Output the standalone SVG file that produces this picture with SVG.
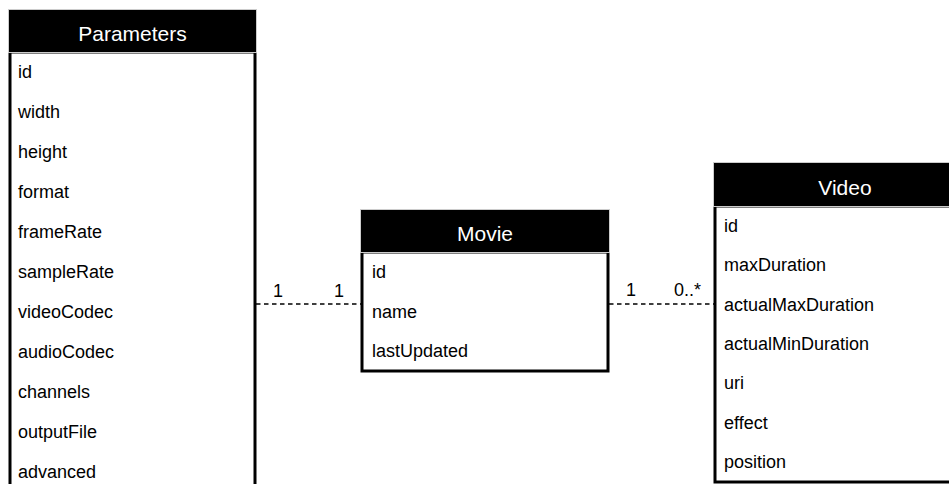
<svg xmlns="http://www.w3.org/2000/svg" width="949" height="484" viewBox="0 0 949 484">
  <style>
    .body { fill: #ffffff; stroke: #000000; stroke-width: 3; }
    .head { fill: #000000; stroke: #cccccc; stroke-width: 1; }
    .title { font-family: "Liberation Sans", Arial, Helvetica, sans-serif; font-size: 21px; fill: #ffffff; text-anchor: middle; }
    .row { font-family: "Liberation Sans", Arial, Helvetica, sans-serif; font-size: 18px; fill: #000000; }
    .mult { font-family: "Liberation Sans", Arial, Helvetica, sans-serif; font-size: 18px; fill: #000000; }
    .link { fill: none; stroke: #000000; stroke-width: 1.5; stroke-dasharray: 4.5 3.5; }
  </style>
  <rect x="0" y="0" width="949" height="484" fill="#ffffff"/>

  <!-- relationships -->
  <g id="connectors">
    <line class="link" x1="256" y1="304" x2="361" y2="304"/>
    <text class="mult" x="273" y="297">1</text>
    <text class="mult" x="334" y="297">1</text>
    <line class="link" x1="609" y1="304" x2="714" y2="304"/>
    <text class="mult" x="626" y="296">1</text>
    <text class="mult" x="674" y="296">0..*</text>
  </g>

  <!-- Parameters entity -->
  <g id="parameters">
    <rect class="body" x="10" y="52" width="245" height="460"/>
    <rect class="head" x="8.5" y="9.5" width="248" height="43"/>
    <text class="title" x="132.5" y="41">Parameters</text>
    <text class="row" x="18" y="78">id</text>
    <text class="row" x="18" y="118">width</text>
    <text class="row" x="18" y="158">height</text>
    <text class="row" x="18" y="198">format</text>
    <text class="row" x="18" y="238">frameRate</text>
    <text class="row" x="18" y="278">sampleRate</text>
    <text class="row" x="18" y="318">videoCodec</text>
    <text class="row" x="18" y="358">audioCodec</text>
    <text class="row" x="18" y="398">channels</text>
    <text class="row" x="18" y="438">outputFile</text>
    <text class="row" x="18" y="478">advanced</text>
  </g>

  <!-- Movie entity -->
  <g id="movie">
    <rect class="body" x="362" y="252" width="246" height="119"/>
    <rect class="head" x="360.5" y="209.5" width="249" height="43"/>
    <text class="title" x="485" y="241">Movie</text>
    <text class="row" x="372" y="278">id</text>
    <text class="row" x="372" y="318">name</text>
    <text class="row" x="372" y="357">lastUpdated</text>
  </g>

  <!-- Video entity -->
  <g id="video">
    <rect class="body" x="715" y="206" width="260" height="276"/>
    <rect class="head" x="713.5" y="162.5" width="260" height="44"/>
    <text class="title" x="845" y="195">Video</text>
    <text class="row" x="724" y="232">id</text>
    <text class="row" x="724" y="271">maxDuration</text>
    <text class="row" x="724" y="311">actualMaxDuration</text>
    <text class="row" x="724" y="350">actualMinDuration</text>
    <text class="row" x="724" y="389">uri</text>
    <text class="row" x="724" y="429">effect</text>
    <text class="row" x="724" y="468">position</text>
  </g>
</svg>
